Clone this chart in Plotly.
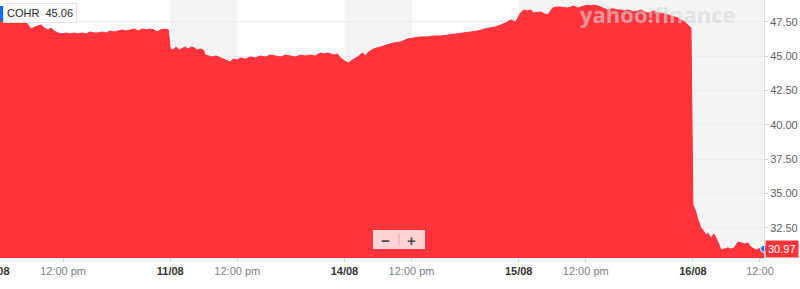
import plotly.graph_objects as go

# ---- data (time in trading-day units from 10/08 open; price in USD) ----
t = [
    0.023, 0.052, 0.080, 0.109, 0.138, 0.167, 0.184, 0.201, 0.224, 0.241, 0.259, 0.276,
    0.299, 0.316, 0.333, 0.356, 0.379, 0.402, 0.425, 0.448, 0.471, 0.494, 0.517, 0.540,
    0.563, 0.586, 0.609, 0.632, 0.655, 0.678, 0.701, 0.724, 0.747, 0.770, 0.793, 0.816,
    0.839, 0.862, 0.885, 0.908, 0.925, 0.943, 0.966, 0.989,
    1.000, 1.017, 1.034, 1.052, 1.069, 1.086, 1.103, 1.121, 1.138, 1.155, 1.172, 1.190,
    1.201, 1.218, 1.241, 1.264, 1.287, 1.305, 1.328, 1.345, 1.362, 1.385, 1.402, 1.431,
    1.460, 1.489, 1.517, 1.546, 1.575, 1.603, 1.632, 1.661, 1.690, 1.718, 1.747, 1.776,
    1.805, 1.833, 1.862, 1.885, 1.902, 1.920, 1.943, 1.960, 1.977,
    2.000, 2.023, 2.046, 2.075, 2.103, 2.121, 2.138, 2.167, 2.207, 2.247, 2.282, 2.322,
    2.362, 2.397, 2.437, 2.477, 2.511, 2.552, 2.598, 2.638, 2.684, 2.724, 2.764, 2.805,
    2.839, 2.868, 2.897, 2.925, 2.954, 2.983,
    3.011, 3.029, 3.052, 3.069, 3.086, 3.109, 3.126, 3.149, 3.167, 3.195, 3.218, 3.241,
    3.264, 3.282, 3.299, 3.316, 3.339, 3.356, 3.379, 3.397, 3.414, 3.431, 3.454, 3.471,
    3.494, 3.511, 3.529, 3.546, 3.569, 3.586, 3.609, 3.626, 3.644, 3.661, 3.684, 3.701,
    3.724, 3.741, 3.759, 3.776, 3.799, 3.816, 3.839, 3.856, 3.874, 3.891, 3.914, 3.931,
    3.954, 3.971, 3.989,
    4.000, 4.006, 4.017, 4.029, 4.046, 4.057, 4.075, 4.086, 4.103, 4.121, 4.144, 4.161,
    4.178, 4.201, 4.218, 4.236, 4.259, 4.276, 4.299, 4.316, 4.333, 4.362, 4.391, 4.408,
]
price = [
    47.57, 47.65, 47.57, 47.65, 47.57, 47.57, 47.28, 46.99, 47.14, 47.21, 47.28, 47.06,
    46.92, 47.06, 46.84, 46.70, 46.63, 46.70, 46.63, 46.70, 46.63, 46.70, 46.63, 46.77,
    46.70, 46.70, 46.77, 46.70, 46.84, 46.77, 46.84, 46.92, 46.84, 46.92, 46.99, 46.84,
    46.99, 46.92, 46.99, 46.92, 46.77, 46.92, 46.99, 46.92,
    45.53, 45.46, 45.68, 45.46, 45.60, 45.68, 45.53, 45.68, 45.60, 45.46, 45.53, 45.46,
    45.09, 45.02, 44.95, 45.02, 44.88, 44.80, 44.66, 44.58, 44.80, 44.73, 44.88, 44.80,
    44.95, 44.88, 45.02, 44.95, 45.09, 45.02, 44.95, 45.09, 45.02, 44.95, 45.09, 45.02,
    45.09, 45.02, 45.24, 45.17, 45.24, 45.17, 45.09, 45.17, 44.88,
    44.66, 44.51, 44.73, 44.95, 45.24, 45.02, 45.31, 45.53, 45.68, 45.82, 45.97, 46.04,
    46.26, 46.33, 46.41, 46.41, 46.48, 46.48, 46.55, 46.63, 46.70, 46.77, 46.84, 46.99,
    47.06, 47.14, 47.28, 47.43, 47.65, 47.50,
    48.16, 48.37, 48.30, 48.37, 48.16, 48.23, 48.23, 48.08, 48.01, 48.52, 48.59, 48.59,
    48.52, 48.52, 48.59, 48.67, 48.52, 48.59, 48.67, 48.74, 48.67, 48.74, 48.67, 48.59,
    48.45, 48.37, 48.45, 48.45, 48.37, 48.37, 48.30, 48.37, 48.30, 48.23, 48.30, 48.37,
    48.23, 48.16, 48.23, 48.30, 48.16, 48.16, 48.08, 48.01, 47.94, 47.86, 47.79, 47.65,
    47.50, 47.28, 47.06,
    34.16, 34.02, 33.65, 33.07, 32.49, 32.34, 31.98, 32.12, 31.76, 32.05, 31.46, 30.88,
    30.95, 31.03, 30.95, 31.03, 31.46, 31.39, 31.32, 31.39, 31.10, 30.88, 31.03, 30.97,
]

symbol = "COHR"
ref_price = "45.06"
last_price = 30.97

day_ticks = [1, 2, 3, 4]
day_labels = ["11/08", "14/08", "15/08", "16/08"]
noon_ticks = [0.385, 1.385, 2.385, 3.385, 4.385]
noon_labels = ["12:00 pm", "12:00 pm", "12:00 pm", "12:00 pm", "12:00"]
first_day_label = "10/08"

y_ticks = [32.5, 35.0, 37.5, 40.0, 42.5, 45.0, 47.5]

shaded = [(1.0, 1.385), (2.0, 2.39), (3.0, 4.408)]

RED = "#ff333a"
BLUE = "#0f69ff"
FONT = "Liberation Sans, Arial, sans-serif"

fig = go.Figure()
fig.add_trace(go.Scatter(
    x=t, y=price, mode="lines",
    line=dict(color=RED, width=1),
    fill="tozeroy", fillcolor=RED,
    hoverinfo="skip", showlegend=False,
))
fig.add_trace(go.Scatter(
    x=[t[-1]], y=[price[-1]], mode="markers",
    marker=dict(color=BLUE, size=7, line=dict(color="white", width=1)),
    cliponaxis=False, hoverinfo="skip", showlegend=False,
))

tickvals = []
ticktext = []
for v, s in zip(day_ticks, day_labels):
    tickvals.append(v)
    ticktext.append(f"<span style='color:#333;font-weight:600'>{s}</span>")
for v, s in zip(noon_ticks, noon_labels):
    tickvals.append(v)
    ticktext.append(f"<span style='color:#7a7f85'>{s}</span>")

shapes = []
for x0, x1 in shaded:
    shapes.append(dict(type="rect", xref="x", yref="paper", x0=x0, x1=x1, y0=0, y1=1,
                       fillcolor="#f4f4f4", line=dict(width=0), layer="below"))

W, H = 800, 289
L, R, T, B = 0, 36, 0, 31
pw, ph = W - L - R, H - T - B


def px(x):
    return x / pw


def py(y):
    return 1 - y / ph


# zoom control box
shapes.append(dict(type="rect", xref="paper", yref="paper",
                   x0=px(373), x1=px(425), y0=py(249), y1=py(230),
                   fillcolor="rgba(255,255,255,0.78)", line=dict(width=0), layer="above"))
shapes.append(dict(type="line", xref="paper", yref="paper",
                   x0=px(399), x1=px(399), y0=py(245), y1=py(234),
                   line=dict(color="rgba(180,120,120,0.5)", width=1), layer="above"))
# symbol badge bar
shapes.append(dict(type="rect", xref="paper", yref="paper",
                   x0=0, x1=px(3), y0=py(21), y1=py(6),
                   fillcolor=BLUE, line=dict(width=0), layer="above"))

annotations = [
    dict(xref="paper", yref="paper", x=px(738), y=py(14), xanchor="right", yanchor="middle",
         text="<b>yahoo!finance</b>", showarrow=False,
         font=dict(family="Open Sans, Arial", size=22, color="rgba(212,215,221,0.6)")),
    dict(xref="paper", yref="paper", x=px(3), y=py(13.5), xanchor="left", yanchor="middle",
         text=f"{symbol}&nbsp;&nbsp;{ref_price}", showarrow=False,
         bgcolor="white", bordercolor="#e3e3e3", borderwidth=1, borderpad=3,
         font=dict(family=FONT, size=11, color="#26282a")),
    dict(xref="paper", yref="y", x=1, y=last_price, xanchor="left", yanchor="middle",
         xshift=1, text=f"{last_price:.2f}", showarrow=False,
         bgcolor=RED, borderpad=2, font=dict(family=FONT, size=11, color="white")),
    dict(xref="paper", yref="paper", x=px(-4), y=0, xanchor="center", yanchor="top",
         yshift=-5, text=f"<span style='font-weight:600'>{first_day_label}</span>",
         showarrow=False, font=dict(family=FONT, size=11, color="#333")),
    dict(xref="paper", yref="paper", x=px(386), y=py(240), xanchor="center", yanchor="middle",
         text="<b>−</b>", showarrow=False, font=dict(family=FONT, size=15, color="#4a4a4a")),
    dict(xref="paper", yref="paper", x=px(412), y=py(240), xanchor="center", yanchor="middle",
         text="<b>+</b>", showarrow=False, font=dict(family=FONT, size=15, color="#4a4a4a")),
]

fig.update_layout(
    width=W, height=H,
    margin=dict(l=L, r=R, t=T, b=B, pad=0),
    paper_bgcolor="white", plot_bgcolor="white",
    font=dict(family=FONT, size=11, color="#5b636a"),
    shapes=shapes, annotations=annotations,
    xaxis=dict(
        range=[0.023, 4.408], tickvals=tickvals, ticktext=ticktext,
        showgrid=False, zeroline=False, showline=True, linecolor="#e6e6e6",
        ticks="outside", ticklen=3, tickcolor="#d0d0d0",
        tickfont=dict(size=11), fixedrange=True,
    ),
    yaxis=dict(
        side="right", range=[30.30, 49.10], tickvals=y_ticks,
        ticktext=[f"{v:.2f}" for v in y_ticks],
        showgrid=True, gridcolor="#ebebeb", gridwidth=1, zeroline=False,
        showline=True, linecolor="#dedede",
        ticks="outside", ticklen=3, tickcolor="#cfcfcf",
        tickfont=dict(size=11, color="#5b636a"), fixedrange=True,
    ),
)

fig.write_html("out.html")
